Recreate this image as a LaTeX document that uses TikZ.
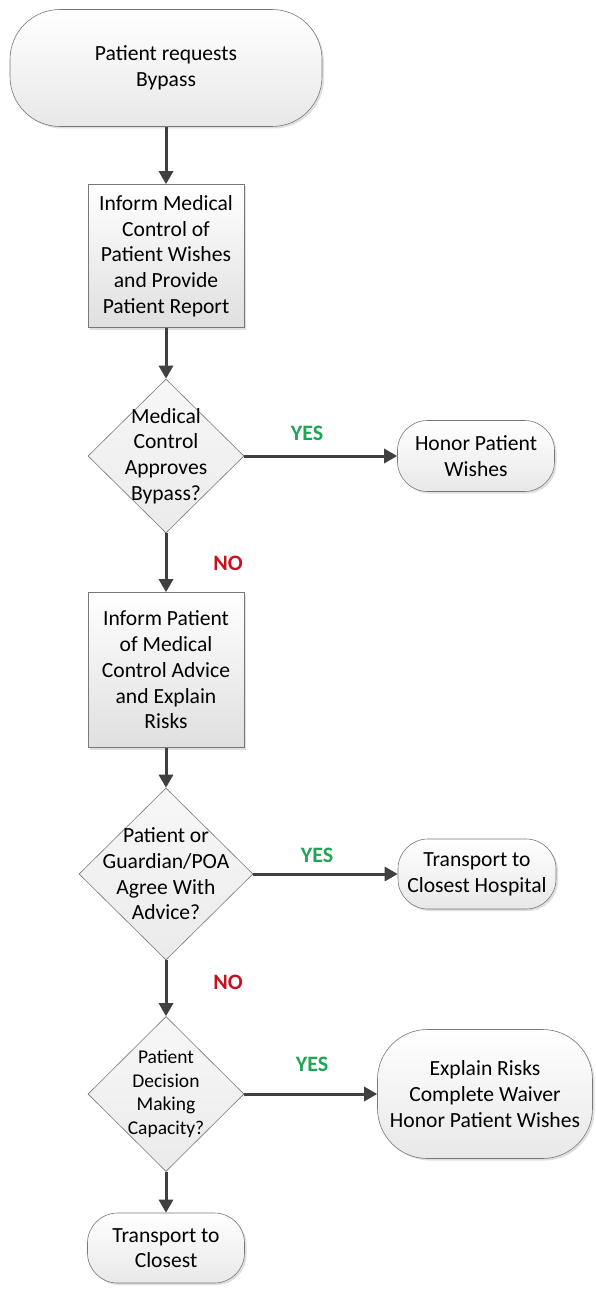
\documentclass[tikz,border=0pt]{standalone}
\usepackage{fontspec}
\setmainfont{Carlito}
\usepackage{xcolor}
\usetikzlibrary{arrows.meta}
\usetikzlibrary{shapes.geometric, shadows}
\definecolor{linegray}{RGB}{64,64,64}
\definecolor{edgegray}{RGB}{120,120,120}
\definecolor{yesgreen}{RGB}{30,165,85}
\definecolor{nored}{RGB}{200,16,30}

\begin{document}
\begin{tikzpicture}[x=1pt, y=-1pt,
    txt/.style={font=\fontsize{21.6}{25.7}\selectfont, align=center},
    term/.style={txt, draw=edgegray, line width=0.6pt, rounded corners=30pt, top color=white, bottom color=gray!18,
      drop shadow={shadow xshift=2pt, shadow yshift=-2pt, opacity=0.25}, inner sep=0pt},
    proc/.style={txt, draw=edgegray, line width=0.6pt, top color=white, bottom color=gray!25,
      drop shadow={shadow xshift=2pt, shadow yshift=-2pt, opacity=0.25}, inner sep=0pt,
      minimum width=156pt},
    decision/.style={diamond, draw=edgegray, line width=0.6pt, top color=gray!6, bottom color=gray!16, inner sep=0pt},
    flow/.style={draw=linegray, line width=3pt, -{Triangle[length=13pt, width=14pt]}},
    yes/.style={text=yesgreen, font=\fontsize{22}{25}\selectfont\bfseries},
    no/.style={text=nored, font=\fontsize{22}{25}\selectfont\bfseries}]
      \useasboundingbox (0,0) rectangle (596,1289);

      % main column
      \node[term, rounded corners=50pt, minimum width=312pt, minimum height=117pt] (start) at (166, 68) {Patient requests\\Bypass};
      \node[proc, minimum height=143pt] (inform) at (166, 256) {Inform Medical\\Control of\\Patient Wishes\\and Provide\\Patient Report};
      \node[decision, minimum width=156pt, minimum height=154pt,
        label={[txt]center:{Medical\\Control\\Approves\\Bypass?}}] (approve) at (166, 456) {};
      \node[proc, minimum height=155pt] (advise) at (166, 670) {Inform Patient\\of Medical\\Control Advice\\and Explain\\Risks};
      \node[decision, minimum width=174pt, minimum height=172pt,
        label={[txt]center:{Patient or\\Guardian/POA\\Agree With\\Advice?}}] (agree) at (166, 874) {};
      \node[decision, minimum width=156pt, minimum height=155pt,
        label={[txt, font=\fontsize{19.5}{23.5}\selectfont]center:{Patient\\Decision\\Making\\Capacity?}}] (capacity) at (166, 1094) {};
      \node[term, minimum width=157pt, minimum height=70pt] (closest) at (166, 1248) {Transport to\\Closest};

      % right column
      \node[term, minimum width=157pt, minimum height=71pt] (honor) at (476, 456) {Honor Patient\\Wishes};
      \node[term, minimum width=158pt, minimum height=70pt] (hospital) at (477, 874) {Transport to\\Closest Hospital};
      \node[term, rounded corners=50pt, minimum width=215pt, minimum height=129pt] (waiver) at (485, 1094) {Explain Risks\\Complete Waiver\\Honor Patient Wishes};

      \draw[flow] (start) -- (inform);
      \draw[flow] (inform) -- (approve);
      \draw[flow] (approve) -- (advise);
      \draw[flow] (advise) -- (agree);
      \draw[flow] (agree) -- (capacity);
      \draw[flow] (capacity) -- (closest);
      \draw[flow] (approve) -- (honor);
      \draw[flow] (agree) -- (hospital);
      \draw[flow] (capacity) -- (waiver);

      \node[yes] (yes1) at (307, 433) {YES};
      \node[yes] (yes2) at (317, 855) {YES};
      \node[yes] (yes3) at (312, 1064) {YES};
      \node[no] (no1) at (228, 563) {NO};
      \node[no] (no2) at (228, 982) {NO};
    \end{tikzpicture}
\end{document}
